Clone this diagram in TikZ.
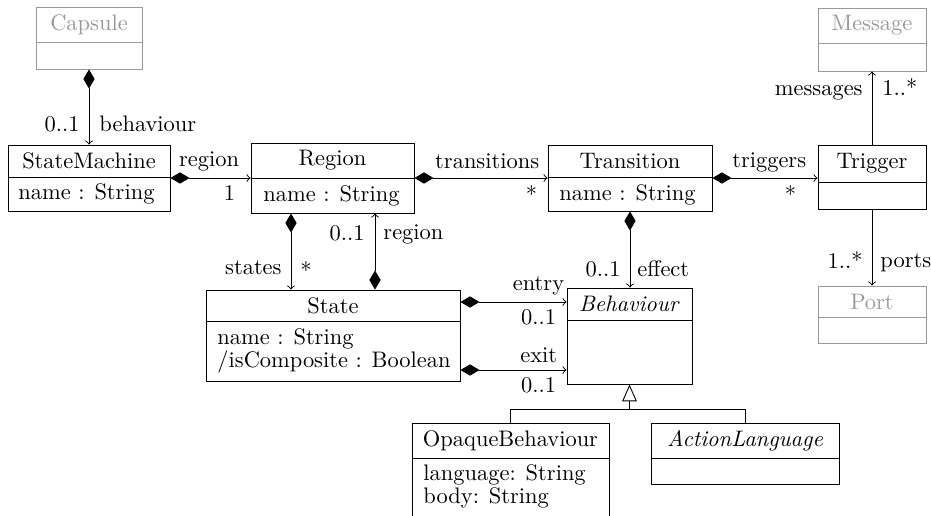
\documentclass[tikz,border=0pt]{standalone}
\usetikzlibrary{arrows.meta,fit}
\colorlet{ghost}{black!40}
\tikzset{
  classbox/.style={draw, inner sep=0pt, line width=0.4pt},
  lbl/.style={inner sep=0pt},
  attr/.style={inner sep=0pt, anchor=base west},
  comp/.style={draw, arrows={Diamond[length=8.5pt,width=5pt]-to}},
  plainarrow/.style={draw, -to},
  inh/.style={draw, -{Triangle[open,length=7.5pt,width=6.5pt]}},
}
\newcommand\umlclass[8]{%
  \node[classbox, draw=#7, fit={(#2,#3)(#4,#5)}] (#1) {};
  \draw[#7] (#2,#6) -- (#4,#6);
  \node[text=#7, inner sep=0pt] (#1-title) at ({(#2+#4)/2},{(#3+#6)/2}) {#8};
}
\begin{document}
\begin{tikzpicture}[x=0.4454pt,y=-0.4454pt]
\useasboundingbox (0,0) rectangle (931,515);
\clip (0,0) rectangle (931,515);

% classes
\umlclass{Capsule}{36}{7}{142}{69}{42}{ghost}{Capsule}
\umlclass{StateMachine}{8}{145}{170}{211}{177}{black}{StateMachine}
\umlclass{Region}{251}{143}{414}{213}{178}{black}{Region}
\umlclass{Transition}{548}{145}{712}{211}{177}{black}{Transition}
\umlclass{Trigger}{818}{145}{926}{209}{182}{black}{Trigger}
\umlclass{Message}{818}{8}{926}{71}{43}{ghost}{Message}
\umlclass{Port}{818}{286}{926}{343}{317}{ghost}{Port}
\umlclass{State}{206}{290}{460}{381}{321}{black}{State}
\umlclass{Behaviour}{567}{288}{692}{384}{320}{black}{\textit{Behaviour}}
\umlclass{OpaqueBehaviour}{412}{423}{609}{540}{458}{black}{OpaqueBehaviour}
\umlclass{ActionLanguage}{651}{423}{839}{484}{458}{black}{\textit{ActionLanguage}}

% attributes
\node[attr] (smA) at (18,199) {name : String};
\node[attr] (rgA) at (263,201) {name : String};
\node[attr] (trA) at (559,200) {name : String};
\node[attr] (stA) at (217,344) {name : String};
\node[attr] (stB) at (217,367.5) {/isComposite : Boolean};
\node[attr] (obA) at (423,480) {language: String};
\node[attr] (obB) at (423,503) {body: String};

% helper coordinates
\coordinate (rs) at (291,0);
\coordinate (sr) at (375,0);
\coordinate (ye) at (0,302);
\coordinate (yx) at (0,370);
\coordinate (yg) at (0,409);
\coordinate (gj) at (Behaviour.south |- yg);

% connectors
\draw[comp] (Capsule) -- (StateMachine)
  node[lbl,pos=1,anchor=base east,shift={(-9,-13)}] (l1a) {0..1}
  node[lbl,pos=1,anchor=base west,shift={(10,-13)}] (l1b) {behaviour};

\draw[comp] (StateMachine) -- (Region)
  node[lbl,pos=1,anchor=base east,shift={(-11,-12)}] (l2a) {region}
  node[lbl,pos=1,anchor=base east,shift={(-15,22)}] (l2b) {1};

\draw[comp] (Region) -- (Transition)
  node[lbl,pos=1,anchor=base east,shift={(-8,-10)}] (l3a) {transitions}
  node[lbl,pos=1,anchor=base east,shift={(-10,24)}] (l3b) {*};

\draw[comp] (Transition.east) -- (Transition.east -| Trigger.west)
  node[lbl,pos=1,anchor=base east,shift={(-11,-11)}] (l4a) {triggers}
  node[lbl,pos=1,anchor=base east,shift={(-21,24)}] (l4b) {*};

\draw[comp] (Region.south -| rs) -- (State.north -| rs)
  node[lbl,pos=1,anchor=base east,shift={(-9,-15)}] (l5a) {states}
  node[lbl,pos=1,anchor=base west,shift={(9,-11)}] (l5b) {*};

\draw[comp] (State.north -| sr) -- (Region.south -| sr)
  node[lbl,pos=1,anchor=base east,shift={(-10,27)}] (l6a) {0..1}
  node[lbl,pos=1,anchor=base west,shift={(8,26)}] (l6b) {region};

\draw[comp] (Transition.south) -- (Transition.south |- Behaviour.north)
  node[lbl,pos=1,anchor=base east,shift={(-9,-11)}] (l7a) {0..1}
  node[lbl,pos=1,anchor=base west,shift={(7,-11)}] (l7b) {effect};

\draw[comp] (State.east |- ye) -- (Behaviour.west |- ye)
  node[lbl,pos=1,anchor=base east,shift={(-2,-12)}] (l8a) {entry}
  node[lbl,pos=1,anchor=base east,shift={(-10,22)}] (l8b) {0..1};

\draw[comp] (State.east |- yx) -- (Behaviour.west |- yx)
  node[lbl,pos=1,anchor=base east,shift={(-9,-8)}] (l9a) {exit}
  node[lbl,pos=1,anchor=base east,shift={(-10,22)}] (l9b) {0..1};

\draw[plainarrow] (Trigger.north) -- (Message.south)
  node[lbl,pos=1,anchor=base east,shift={(-9,24)}] (l10a) {messages}
  node[lbl,pos=1,anchor=base west,shift={(10,24)}] (l10b) {1..*};

\draw[plainarrow] (Trigger.south) -- (Port.north)
  node[lbl,pos=1,anchor=base east,shift={(-9,-17)}] (l11a) {1..*}
  node[lbl,pos=1,anchor=base west,shift={(8,-18)}] (l11b) {ports};

% generalization
\draw (OpaqueBehaviour.north) |- (gj);
\draw (ActionLanguage.north) |- (gj);
\draw[inh] (gj) -- (Behaviour.south);
\end{tikzpicture}
\end{document}
